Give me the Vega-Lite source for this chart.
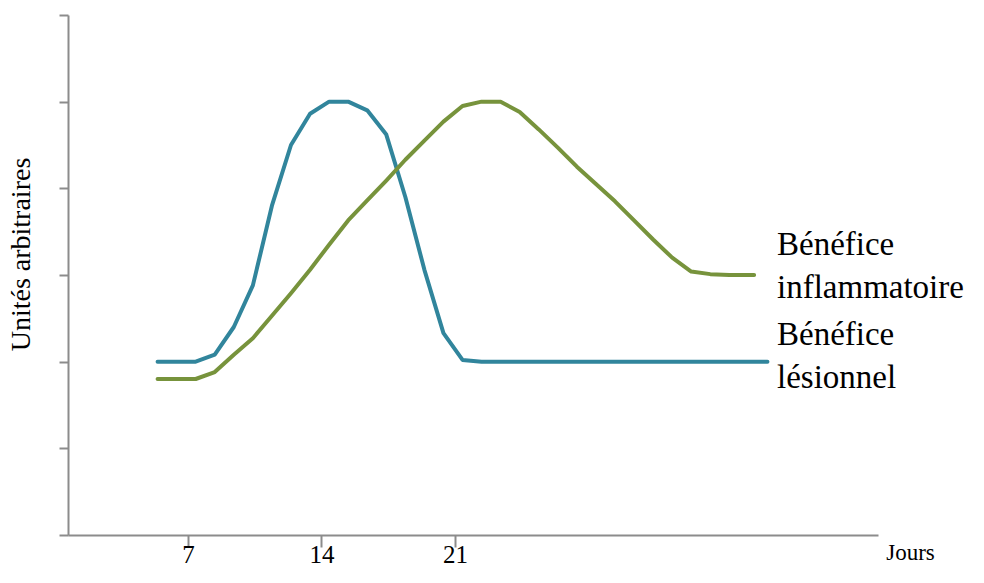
{
  "$schema": "https://vega.github.io/schema/vega-lite/v6.json",
  "width": 810,
  "height": 520,
  "autosize": {"type": "none"},
  "padding": {"left": 68, "top": 15, "right": 106, "bottom": 48},
  "background": "white",
  "config": {"view": {"stroke": null}, "font": "Liberation Serif"},
  "datasets": {
    "curves": [
      {"jour": 5.4, "valeur": 2.0, "serie": "lesionnel"},
      {"jour": 6.4, "valeur": 2.0, "serie": "lesionnel"},
      {"jour": 7.4, "valeur": 2.0, "serie": "lesionnel"},
      {"jour": 8.4, "valeur": 2.08, "serie": "lesionnel"},
      {"jour": 9.4, "valeur": 2.4, "serie": "lesionnel"},
      {"jour": 10.4, "valeur": 2.88, "serie": "lesionnel"},
      {"jour": 11.4, "valeur": 3.8, "serie": "lesionnel"},
      {"jour": 12.4, "valeur": 4.5, "serie": "lesionnel"},
      {"jour": 13.4, "valeur": 4.86, "serie": "lesionnel"},
      {"jour": 14.4, "valeur": 5.0, "serie": "lesionnel"},
      {"jour": 15.4, "valeur": 5.0, "serie": "lesionnel"},
      {"jour": 16.4, "valeur": 4.9, "serie": "lesionnel"},
      {"jour": 17.4, "valeur": 4.62, "serie": "lesionnel"},
      {"jour": 18.4, "valeur": 3.9, "serie": "lesionnel"},
      {"jour": 19.4, "valeur": 3.06, "serie": "lesionnel"},
      {"jour": 20.4, "valeur": 2.33, "serie": "lesionnel"},
      {"jour": 21.4, "valeur": 2.02, "serie": "lesionnel"},
      {"jour": 22.4, "valeur": 2.0, "serie": "lesionnel"},
      {"jour": 37.4, "valeur": 2.0, "serie": "lesionnel"},
      {"jour": 5.4, "valeur": 1.8, "serie": "inflammatoire"},
      {"jour": 6.4, "valeur": 1.8, "serie": "inflammatoire"},
      {"jour": 7.4, "valeur": 1.8, "serie": "inflammatoire"},
      {"jour": 8.4, "valeur": 1.88, "serie": "inflammatoire"},
      {"jour": 9.4, "valeur": 2.08, "serie": "inflammatoire"},
      {"jour": 10.4, "valeur": 2.27, "serie": "inflammatoire"},
      {"jour": 11.4, "valeur": 2.53, "serie": "inflammatoire"},
      {"jour": 12.4, "valeur": 2.79, "serie": "inflammatoire"},
      {"jour": 13.4, "valeur": 3.06, "serie": "inflammatoire"},
      {"jour": 14.4, "valeur": 3.35, "serie": "inflammatoire"},
      {"jour": 15.4, "valeur": 3.63, "serie": "inflammatoire"},
      {"jour": 16.4, "valeur": 3.86, "serie": "inflammatoire"},
      {"jour": 17.4, "valeur": 4.09, "serie": "inflammatoire"},
      {"jour": 18.4, "valeur": 4.33, "serie": "inflammatoire"},
      {"jour": 19.4, "valeur": 4.55, "serie": "inflammatoire"},
      {"jour": 20.4, "valeur": 4.77, "serie": "inflammatoire"},
      {"jour": 21.4, "valeur": 4.95, "serie": "inflammatoire"},
      {"jour": 22.4, "valeur": 5.0, "serie": "inflammatoire"},
      {"jour": 23.4, "valeur": 5.0, "serie": "inflammatoire"},
      {"jour": 24.4, "valeur": 4.88, "serie": "inflammatoire"},
      {"jour": 25.4, "valeur": 4.68, "serie": "inflammatoire"},
      {"jour": 26.4, "valeur": 4.47, "serie": "inflammatoire"},
      {"jour": 27.4, "valeur": 4.25, "serie": "inflammatoire"},
      {"jour": 28.4, "valeur": 4.05, "serie": "inflammatoire"},
      {"jour": 29.4, "valeur": 3.85, "serie": "inflammatoire"},
      {"jour": 30.4, "valeur": 3.63, "serie": "inflammatoire"},
      {"jour": 31.4, "valeur": 3.41, "serie": "inflammatoire"},
      {"jour": 32.4, "valeur": 3.2, "serie": "inflammatoire"},
      {"jour": 33.4, "valeur": 3.04, "serie": "inflammatoire"},
      {"jour": 34.4, "valeur": 3.01, "serie": "inflammatoire"},
      {"jour": 35.4, "valeur": 3.0, "serie": "inflammatoire"},
      {"jour": 36.7, "valeur": 3.0, "serie": "inflammatoire"}
    ],
    "labels": [
      {"jour": 37.9, "valeur": 3.35, "texte": ["Bénéfice", "inflammatoire"]},
      {"jour": 37.9, "valeur": 2.31, "texte": ["Bénéfice", "lésionnel"]}
    ]
  },
  "layer": [
    {
      "data": {"name": "curves"},
      "mark": {"type": "line", "strokeWidth": 4, "strokeJoin": "round", "strokeCap": "round"},
      "encoding": {
        "x": {
          "field": "jour", "type": "quantitative",
          "scale": {"domain": [0.7, 43.2], "nice": false, "zero": false},
          "axis": {
            "values": [7, 14, 21],
            "grid": false,
            "domainColor": "#8c8c8c", "domainWidth": 2,
            "tickColor": "#8c8c8c", "tickWidth": 2, "tickSize": 12,
            "labelFont": "Liberation Serif", "labelFontSize": 25, "labelColor": "#000000", "labelPadding": -5,
            "title": "Jours",
            "titleFont": "Liberation Serif", "titleFontSize": 23, "titleFontWeight": "normal", "titleColor": "#000000",
            "titleX": 842, "titleY": 17, "titleAlign": "center", "titleBaseline": "middle"
          }
        },
        "y": {
          "field": "valeur", "type": "quantitative",
          "scale": {"domain": [0, 6], "nice": false},
          "axis": {
            "values": [0, 1, 2, 3, 4, 5, 6],
            "labels": false,
            "grid": false,
            "domainColor": "#8c8c8c", "domainWidth": 2,
            "tickColor": "#8c8c8c", "tickWidth": 2, "tickSize": 9,
            "title": "Unités arbitraires",
            "titleFont": "Liberation Serif", "titleFontSize": 28, "titleFontWeight": "normal", "titleColor": "#000000",
            "titleX": -47, "titleY": 239, "titleAlign": "center", "titleBaseline": "middle"
          }
        },
        "color": {
          "field": "serie", "type": "nominal",
          "scale": {"domain": ["lesionnel", "inflammatoire"], "range": ["#31859C", "#77933C"]},
          "legend": null
        },
        "detail": {"field": "serie"}
      }
    },
    {
      "data": {"name": "labels"},
      "mark": {"type": "text", "align": "left", "baseline": "middle", "font": "Liberation Serif", "fontSize": 33, "lineHeight": 43, "color": "#000000"},
      "encoding": {
        "x": {"field": "jour", "type": "quantitative"},
        "y": {"field": "valeur", "type": "quantitative"},
        "text": {"field": "texte"}
      }
    }
  ]
}
